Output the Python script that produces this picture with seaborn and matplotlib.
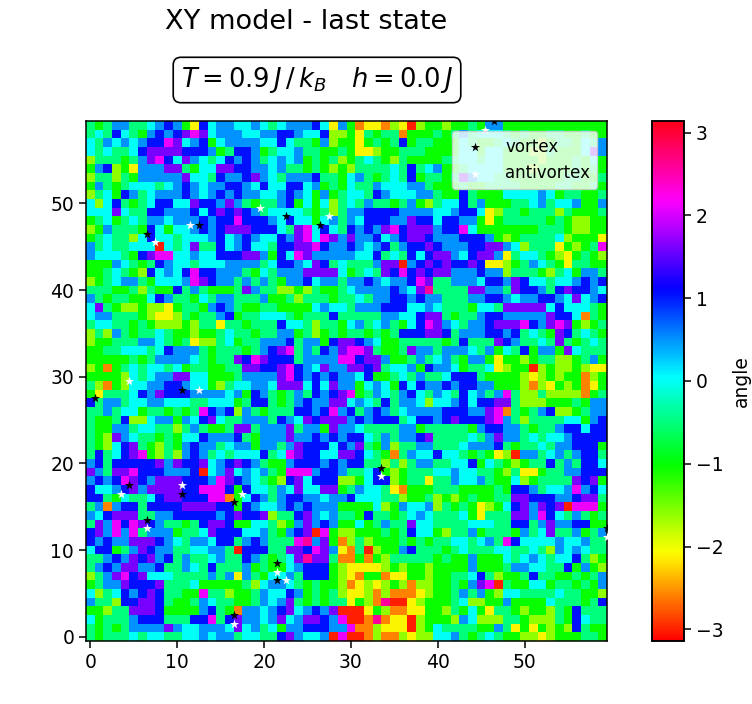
import numpy as np
import seaborn as sns
import matplotlib
matplotlib.use("Agg")
import matplotlib.pyplot as plt

# hue letters read off the picture, and the angle each one stands for
hue_angle = {"R": -3.0, "O": -2.6, "Y": -2.1, "L": -1.6, "G": -1.05, "S": -0.5,
             "C": 0.0, "A": 0.5, "B": 1.05, "V": 1.6, "M": 2.1, "P": 2.6}

# site colours, row y=59 first, left half then right half
rows_top = [
    "SGSAASSCAB AGYBCAACCA CSCAAABCYA GOYYOLYRLG GLGGSGAAGG GGGGGGGGGG",
    "SCSBCSGABA BVMVCAAACC AABBACCBLL GYSGSSOGGG SGSASCCCSG SGGSSGGSGG",
    "CSACACABBM VCABGCAAAA CCBCSSGALG GYGSGSBGSS GGGCSGGSCS GGLGSSGCSA",
    "CSCSSCBVVV VBBBAGSBBA GSCCASSGGS GYYLGGSSSG GGGCCGCCGG GLLSGGGCVA",
    "LSSSGSAVMB CVACSCBABA SCACAGSGSL GSCSGLSGGG GSSCCSCCGG GGLGGGSGCG",
    "GABLGYAAAV VSGCCVVBBA ACASSGSGLG LSSSSCSBSC AGGSCCCCGG GLGGGGSGSG",
    "LSSLSGAAAA AVCCSBAABV ACSAAABSSG CASGSCSBGS SGSVACCSSG GGGGGSSGGS",
    "GASGSCCCSC ABACAABBAC BCCBBCAGSG CSSACCCAAS GGGSGGSSSS GGGGSSGGSG",
    "LSCGBASCAA ABACABABAA CCABACGAGS CCSBACCCAA SGGBSGGGCC CCACGSSGGS",
    "CLCBSGSCBB CCVBBAVASG SSABGCGCLS CSASSGSAGL SCCBSAGGGS SCASCCAGGA",
    "CCCVCSSBBA AABCBVBVBA SCCCCSGSLS AABBBBAAAA CCABBCYLSS GSSSLSGGGS",
    "GSCGSCSAAC AAABABBMBB BACBCCGCAS ACBBBAAVBB CBBAAGYGSS SSSGSGLLGG",
    "LGASSSGBCG CCABABVVVB BBCSVMCBCS BABAVMBVVV ABBMCGGGGG GGSSSGLLGG",
    "GSCSSLCBCC SCCCABCABA CCBAVMCMVA VAABCABVVB AAABBBAGLG SSSSCLGGGY",
    "ASCSSCCCRC SCVSSBCABC CSBBVVMBAA BACABSABBV BAAABBVVAC LSSSYGLGSM",
    "ACCCSGBVMM CCACCBBBVV AGBCMVAAAA ACCBSCSBCB VVACBVVAYS CCSGLYGSGL",
    "GGGACSGSBA CCSCCCAAAA SCBBACVBSC SSSAVVRABV BVBBVBYYLG SACSGYSSGG",
    "GGSCSGLBCA CBMBBAAASG CSAAAVVVVC GSCSVBMBVB VVAAABAALS SSGLSCGAAS",
    "LGSCAASGCC CAMVBAASAS ASGAABCAAS AABACAABMV SSAAACBBAV BCCSCCABAB",
    "SSSGGSLSGG BSASGGGSVA SSLLGLSGGS CAAAABACVP SSSSVVAASV BBASBVBBAC",
    "ASGSSGGCBA SSGCSAASSS AGGSLSSSGS SCSAABBABA ASSSAABBAC AABBACVCAB",
    "CVSGLLGLLY GSSGABASGG SSGGGGCACC SAAABBBCCA CSSSGCCSVV VVVCBCCCSG",
    "CAASSSGLYY LSGSSABGSS CCCSGSSSBS SSSSAACCBV VSGSSABBAA AAAVBBCOSG",
    "SCCSSGSGLL LGLSSYSSGS SSBCCSLSSG CASCASGCBM VACSAABVVV MBAVMVGLGS",
    "LSLASGSSCS GGLGGSCSSG SSAAGSLGSG SSGSGSBBBV VBSAAABBAB SCSGVBSCSG",
    "LGGSSSAACS GSYLLSCGSS AAABSAAGBV VBACGGSSSS SGSBSSSVBA SSCSVSGSCS",
    "GGSSCCCSCB AAASGSSSGS ABVMSASBAV MMVSGGSVAA SAAACSAGCS BGAAGVCSSS",
    "GGGGGSGSAA AACSGSSVBM VBBBSAAAAM MBVVAGGSAS CASGAAGYGG LGSSLLGSAG",
    "LGOGSCSCCS CGSSGGSSVV BBVMBACVAA VVBVSCCAGB AACGSSCYLG GRLGLLGLYY",
    "GGGGLCSCAA VVCCGGGSAA AAVMBABABA ACBGGSCSAS SCBBBSGGGG LYLGLGGOLG",
]
rows_bottom = [
    "SLOGLCCAAB BACCGLSCCA ACVVVCBCVA AGCACGBCBA ABABBAAGGG LOLYGLGOYG",
    "GYSSSCBAVB BBAAAACAGB ASGSASBABV MGSACSABCS ACSBCASAMS LLSLLLLOGS",
    "BSAASCCAAC CCSSCCCGSB BSGSABAAVV CACSBSAACL CCABCBBVVS LLLGGGSGAA",
    "SSASCCGSSG SGSMBABLAS GSSSBBABMA BSABASCAAA ABBBAAVMOS GSABLLGSAA",
    "SGGSBLLCAA GACBVCSSAA ASBACVBVVV ABABBBSCBB ABVBBBVMAS LSSSSCCGAB",
    "SGGAASCCSS LSASGGSVVS AAAVSAAGVA ACSSSSAAGS SSSSGABBAA SGSSABBCBB",
    "SGLVACSSGS GCCBAAABSG AAAVAABABA BBCSASAABV SSSSCSAVAA SCSCCABBBB",
    "SGLCBVSGLS GABAASCAAG AASAVBBBCB AVSGALSSAA SSSCAAABSG SSCSAABBBG",
    "SBSCBVMGLS LABASCSCCC BSCMVBBCCV VBCSGOSACC BCCSGSGYLR AASCASABBS",
    "ABSBBBBBVA VBBVCABVBA SGGABBBABA BBSSLSLSAA SSCCBGCSGL GSSBSASBBC",
    "VASVVMBBBA AABRCAVCAC ASGMMMABBA SSCBGLGSSS CCACCSSGLS YYGSSAABBB",
    "ABABMVBAVV VBBBAMVBAC SGLBVCBBBL LGCBBLGSSY SSACCASGGC LGSSSSVBVG",
    "BCCABVAVVV VBBMMMBGBC CSACVCCVVG SACCSYOGGG SSSGGGGSGB BASCCAMABC",
    "BBSGCSSCBV VBBBMMOGCB ASABBAACAA BCCCSSLGGS LGLGSGGSSV VBBBAABVVS",
    "SAOABBSBBB BVVVVBBGBA CCABABAAAG GGGCLGACCA LSGSGYLGCB VAVBVRMMMG",
    "ACBVVVSSAA BBBBBABVBB VLSSBVACAS SGBSSGSCAC SSSCGYSSSV VAMBCSASGS",
    "SVAMBMVBAS SGSBVVBGGC CSLGAVABAG GCGSASSVCC SSSSCCCSSB BSAVAABBGG",
    "BVAMAMSAAA GSSCVBBBCC ASGABVRMGL LGGGSGSBCC GLSSAGSSSG ASCVSSAGSA",
    "BABAAVVVBA CSAACBBSAB ASSSMPAVGO LSLGGGSGSG SSCCSCASMB CCCCACCASS",
    "CBBGSAVBAA SSCCAASRBB BSSVVBMVAY OSRLGGABSS SGSCSSSCCS SCSLACACSS",
    "SSABAVBVAB SASSCASSBA SGSCVPVVSO OGOGLSSSSS GSGGAGGGCS CACSCCBSLG",
    "SABAVVAABS SACSBSSSAG SGGCABBBGL YYYYLGLGGL GGGGAGGGSA ACCSSBGAGL",
    "LSAVMBVCCC SSSSASAYAS GCCASBBBGL YOGGOYYGGL GGSSCBSLGG SBSSGGSGSA",
    "GSAAVBBBVS SSCGGGGGSL CAACSGSGGL OYLYLGLOLL GGSGAVMRSG GCCGSSGSGA",
    "CLSCBABVBS SGGMSSLGGS ACCBAGSGSL YYLOLOOOYL GGSASAGLCC SSSSCSSGGL",
    "ASSLBBVVBS GGSACSSGGS ACAVSGSGSS YGLOPRRYLG GGSCLLGGAG GGGCSSSGSB",
    "GGLSSVVVBG GGGABSGOAA CABVCABAVR RRYGLOOYYG GLSGCGYSSG LGGLSGBSSS",
    "CGSSSABBBS SSBBMSBVAA CAVCAVVBAM RROPOYYRLG GGLACLLLSS GLLLSGBCSS",
    "SGSGSAAAAV ACCAAACVCA SCGAABBBAA MOOLYYYRLG CSSSSGGASY GYGLGLBSGG",
    "SGSSSCSCCS SCCACAASCC SSBVACCARM RROLOOLYLL CCASGSCSGG LLYLGGGSSG",
]

vortex_x = [46.5, 6.5, 12.5, 22.5, 26.5, 0.5, 10.5, 33.5, 4.5, 10.5, 16.5, 6.5, 21.5, 21.5, 16.5, 59.5]
vortex_y = [59.5, 46.5, 47.5, 48.5, 47.5, 27.5, 28.5, 19.5, 17.5, 16.5, 15.5, 13.5, 8.5, 6.5, 2.5, 12.5]
anti_x = [45.5, 7.5, 11.5, 19.5, 27.5, 4.5, 12.5, 33.5, 3.5, 10.5, 17.5, 6.5, 21.5, 22.5, 16.5, 59.5]
anti_y = [58.5, 45.5, 47.5, 49.5, 48.5, 29.5, 28.5, 18.5, 16.5, 17.5, 16.5, 12.5, 7.5, 6.5, 1.5, 11.5]

site_ticks = [0, 10, 20, 30, 40, 50]
angle_ticks = [-3, -2, -1, 0, 1, 2, 3]

grid = np.array([[hue_angle[c] for c in row.replace(" ", "")] for row in rows_top + rows_bottom])[::-1]

W, H = 752, 704
fig = plt.figure(figsize=(W / 100, H / 100), dpi=100)
ax = fig.add_axes([86 / W, 1 - 641 / H, 521 / W, 520 / H])
cax = fig.add_axes([652 / W, 1 - 641 / H, 32 / W, 520 / H])

# heatmap cells sit on 0..60, so sites are shifted by half a cell
sns.heatmap(grid, cmap="hsv", vmin=-np.pi, vmax=np.pi, ax=ax, cbar_ax=cax,
            cbar_kws={"ticks": angle_ticks}, xticklabels=False, yticklabels=False)
ax.invert_yaxis()

sns.scatterplot(x=np.array(vortex_x) + 0.5, y=np.array(vortex_y) + 0.5, marker="*", color="black",
                s=48, linewidth=0, label="vortex", ax=ax, zorder=3)
sns.scatterplot(x=np.array(anti_x) + 0.5, y=np.array(anti_y) + 0.5, marker="*", color="white",
                s=48, linewidth=0, label="antivortex", ax=ax, zorder=3)

ax.set_xlim(0, 60)
ax.set_ylim(0, 60)
ax.set_xticks(np.array(site_ticks) + 0.5, labels=site_ticks)
ax.set_yticks(np.array(site_ticks) + 0.5, labels=site_ticks)
ax.tick_params(labelsize=13.5, length=5, width=1.1, labelrotation=0)
ax.set_xlabel("site index x", fontsize=13.5, labelpad=6)
ax.set_ylabel("site index y", fontsize=13.5, labelpad=6)
for s in ax.spines.values():
    s.set_visible(True)
    s.set_linewidth(1.1)

ax.legend(loc="upper right", fontsize=12, framealpha=0.8, borderaxespad=0.6)

cax.tick_params(labelsize=13.5, length=5, width=1.1)
cax.set_ylabel("angle", fontsize=13.5, labelpad=6)
for s in cax.spines.values():
    s.set_visible(True)
    s.set_linewidth(1.1)

fig.text(306 / W, 1 - 22 / H, "XY model - last state", ha="center", va="center", fontsize=19.5)
fig.text(317 / W, 1 - 80 / H, r"$T = 0.9\,J\,/\,k_B\quad h = 0.0\,J$", ha="center", va="center", fontsize=18.5,
         bbox=dict(boxstyle="round,pad=0.3", facecolor="white", edgecolor="black", linewidth=1.2))

fig.savefig("out.png", dpi=100)
